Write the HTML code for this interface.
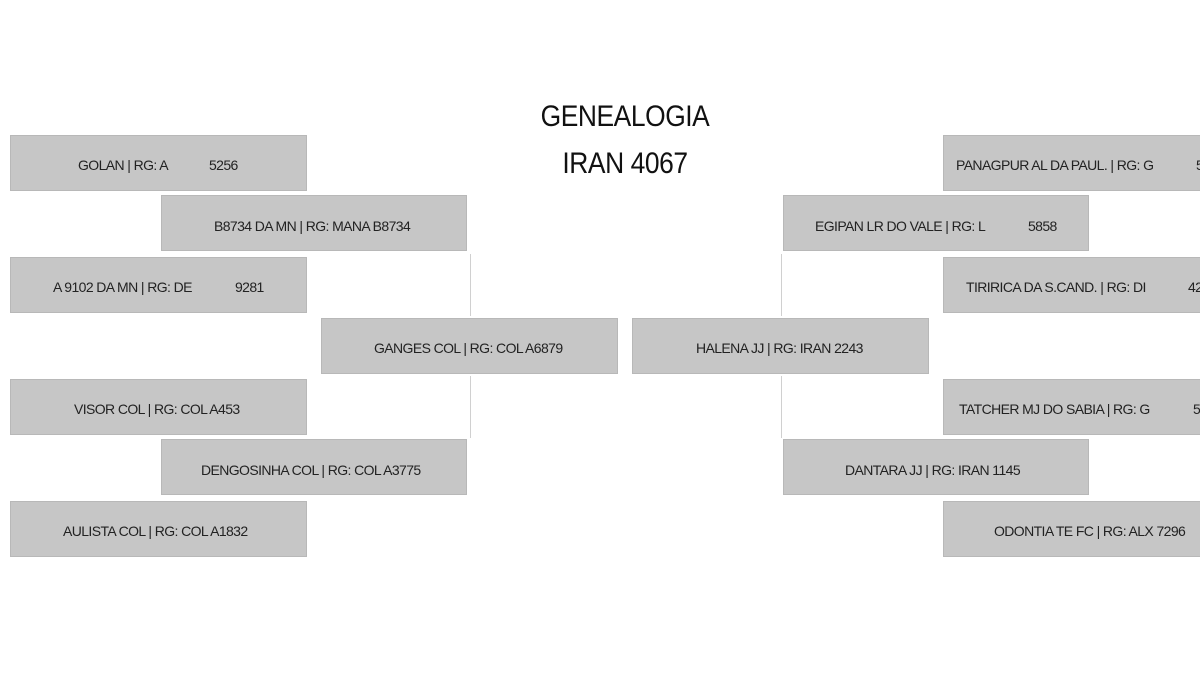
<!DOCTYPE html>
<html><head><meta charset="utf-8"><style>
body{margin:0;background:#fff;}
#c{position:relative;width:1200px;height:700px;overflow:hidden;font-family:"Liberation Sans",Arial,sans-serif;}
.b{position:absolute;width:297px;height:56px;background:#c6c6c6;border:1px solid #b8b8b8;box-sizing:border-box;}
.t{position:absolute;font-size:14px;color:#222;letter-spacing:-0.6px;white-space:nowrap;line-height:16px;}
.v{position:absolute;width:1px;background:#d0d0d0;}
.h{position:absolute;font-size:30px;color:#111;letter-spacing:-0.5px;width:300px;text-align:center;left:475px;transform:scaleX(0.88);}
</style></head><body><div id="c">
<div class="h" style="top:100px">GENEALOGIA</div>
<div class="h" style="top:147px">IRAN 4067</div>

<div class="b" style="left:10px;top:135px"></div>
<div class="b" style="left:161px;top:195px;width:306px"></div>
<div class="b" style="left:10px;top:257px"></div>
<div class="b" style="left:321px;top:318px"></div>
<div class="b" style="left:10px;top:379px"></div>
<div class="b" style="left:161px;top:439px;width:306px"></div>
<div class="b" style="left:10px;top:501px"></div>

<div class="b" style="left:943px;top:135px;width:270px"></div>
<div class="b" style="left:783px;top:195px;width:306px"></div>
<div class="b" style="left:943px;top:257px;width:270px"></div>
<div class="b" style="left:632px;top:318px"></div>
<div class="b" style="left:943px;top:379px;width:270px"></div>
<div class="b" style="left:783px;top:439px;width:306px"></div>
<div class="b" style="left:943px;top:501px;width:270px"></div>

<div class="v" style="left:470px;top:254px;height:62px"></div>
<div class="v" style="left:470px;top:376px;height:62px"></div>
<div class="v" style="left:781px;top:254px;height:62px"></div>
<div class="v" style="left:781px;top:376px;height:62px"></div>

<div class="t" style="left:78px;top:157px">GOLAN | RG: A</div>
<div class="t" style="left:209px;top:157px">5256</div>
<div class="t" style="left:214px;top:218px">B8734 DA MN | RG: MANA B8734</div>
<div class="t" style="left:53px;top:279px">A 9102 DA MN | RG: DE</div>
<div class="t" style="left:235px;top:279px">9281</div>
<div class="t" style="left:374px;top:340px">GANGES COL | RG: COL A6879</div>
<div class="t" style="left:74px;top:401px">VISOR COL | RG: COL A453</div>
<div class="t" style="left:201px;top:462px">DENGOSINHA COL | RG: COL A3775</div>
<div class="t" style="left:63px;top:523px">AULISTA COL | RG: COL A1832</div>

<div class="t" style="left:956px;top:157px">PANAGPUR AL DA PAUL. | RG: G</div>
<div class="t" style="left:1196px;top:157px">5</div>
<div class="t" style="left:815px;top:218px">EGIPAN LR DO VALE | RG: L</div>
<div class="t" style="left:1028px;top:218px">5858</div>
<div class="t" style="left:966px;top:279px">TIRIRICA DA S.CAND. | RG: DI</div>
<div class="t" style="left:1188px;top:279px">42</div>
<div class="t" style="left:696px;top:340px">HALENA JJ | RG: IRAN 2243</div>
<div class="t" style="left:959px;top:401px">TATCHER MJ DO SABIA | RG: G</div>
<div class="t" style="left:1193px;top:401px">5</div>
<div class="t" style="left:845px;top:462px">DANTARA JJ | RG: IRAN 1145</div>
<div class="t" style="left:994px;top:523px">ODONTIA TE FC | RG: ALX 7296</div>
</div></body></html>
